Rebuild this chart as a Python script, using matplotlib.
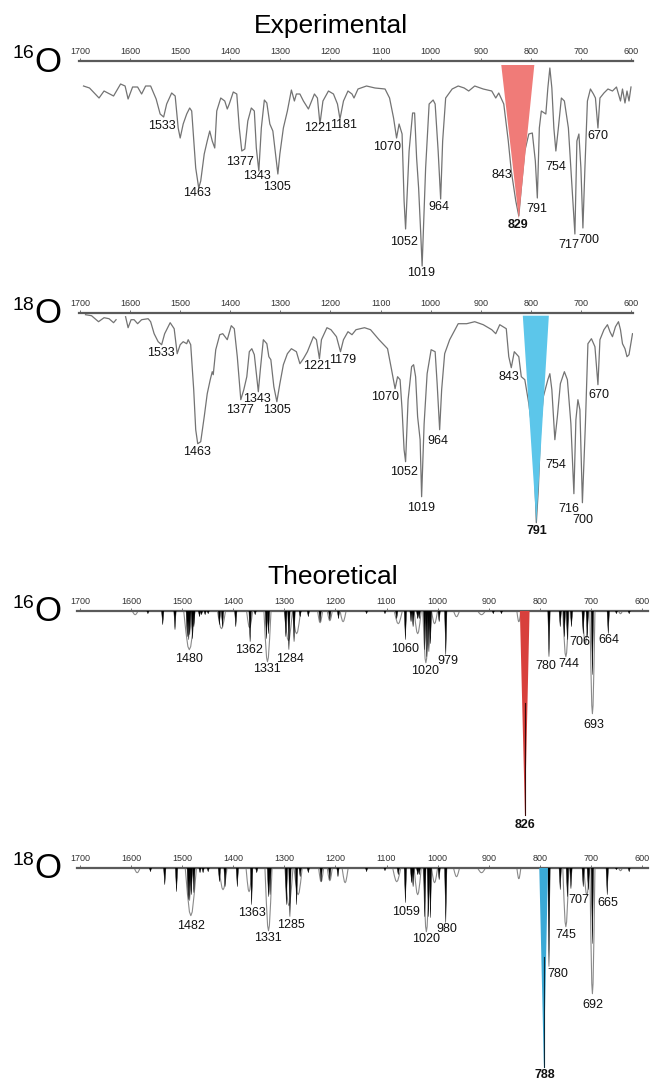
import numpy as np
import matplotlib.pyplot as plt

W, H = 652, 1082
nan = np.nan

# ---- experimental 16O (wavenumber, depth below axis line) ----
exp16_wn = [1693, 1681, 1662, 1652, 1633, 1619, 1610, 1604, 1595, 1585, 1577, 1569, 1559, 1548, 1540,
            1533, 1527, 1517, 1510, 1504, 1500, 1494, 1487, 1481, 1477, 1469, 1463, 1459, 1452, 1446,
            1441, 1436, 1431, 1427, 1419, 1411, 1406, 1402, 1394, 1387, 1382, 1377, 1371, 1365, 1358,
            1352, 1348, 1343, 1338, 1332, 1327, 1321, 1315, 1305, 1301, 1294, 1286, 1278, 1272, 1268,
            1261, 1254, 1244, 1232, 1226, 1221, 1215, 1204, 1194, 1186, 1181, 1174, 1165, 1157, 1153,
            1145, 1128, 1111, 1091, 1082, 1074, 1068, 1063, 1057, 1053, 1050, 1043, 1036, 1032, 1028,
            1024, 1020, 1017, 1010, 1003, 995, 991, 985, 980, 976, 970, 957, 945, 933, 924,
            912, 895, 878, 870, 864, 854, 845, 839, 830, 824, 819, 812, 804, 797, 791,
            787, 783, 779, 770, 766, 762, 758, 754, 750, 745, 739, 733, 725, 716, 712,
            708, 704, 700, 696, 692, 687, 681, 675, 671, 666, 662, 654, 646, 637, 629,
            621, 617, 612, 608, 604, 600]
exp16_depth = [25, 27, 37, 30, 35, 23, 25, 38, 26, 26, 33, 25, 25, 38, 53,
               56, 43, 32, 35, 67, 77, 63, 53, 47, 50, 107, 127, 120, 93, 80,
               70, 80, 87, 50, 37, 40, 48, 43, 31, 33, 67, 90, 88, 60, 47,
               50, 87, 110, 67, 39, 42, 63, 70, 113, 93, 67, 50, 29, 40, 33,
               33, 40, 48, 33, 37, 63, 40, 30, 33, 43, 58, 40, 30, 33, 37,
               28, 25, 27, 28, 37, 57, 77, 63, 73, 140, 168, 90, 52, 52, 97,
               127, 170, 205, 107, 43, 39, 43, 90, 138, 80, 37, 28, 25, 27, 30,
               25, 28, 30, 37, 32, 43, 80, 110, 140, 155, 127, 90, 73, 72, 100,
               137, 67, 50, 53, 27, 7, 27, 67, 90, 67, 37, 40, 67, 140, 173,
               80, 73, 107, 167, 107, 40, 28, 33, 37, 67, 37, 32, 28, 30, 26,
               40, 28, 42, 30, 40, 26]

# ---- experimental 18O (nan = gap in trace) ----
exp18_wn = [1689, 1677, 1663, 1652, 1642, 1633, 1628, nan,
            1609, 1604, 1598, 1592, 1585, 1577, 1564, 1559, 1552, 1544, 1537, 1531, 1520, 1512, 1506,
            1500, 1494, 1487, 1484, 1479, 1473, 1469, 1465, 1459, 1452, 1446, 1440, 1436, 1434, 1429,
            1421, 1415, 1406, 1398, 1392, 1386, 1379, 1373, 1367, 1362, 1357, 1352, 1348, 1344, 1340,
            1334, 1327, 1323, 1319, 1313, 1307, 1301, 1294, 1286, 1278, 1268, 1261, 1254, 1246, 1234,
            1228, 1222, 1218, 1207, 1199, 1188, 1180, 1174, 1165, 1157, 1149, 1132, 1120, 1103, 1086,
            1078, 1071, 1066, 1061, 1057, 1053, 1050, 1045, 1038, 1034, 1030, 1026, 1021, 1018, 1013,
            1007, 999, 991, 987, 982, 978, 972, 962, 945, 928, 912, 895, 878, 870, 862,
            849, 844, 839, 833, 824, 819, 812, 804, 795, 789, 785, 780, 775, 766, 762,
            758, 752, 747, 741, 733, 727, 720, 714, 710, 706, 702, 697, 691, 686, 679,
            672, 666, 662, 654, 647, 642, 637, 631, 625, 621, 617, 612, 608, 604, 597]
exp18_depth = [2, 3, 9, 5, 6, 10, 7, nan,
               4, 15, 7, 7, 11, 7, 6, 9, 21, 29, 32, 21, 10, 16, 41,
               32, 29, 31, 27, 32, 77, 117, 131, 129, 104, 81, 67, 59, 62, 37,
               22, 21, 27, 13, 16, 44, 87, 77, 64, 39, 36, 42, 61, 79, 57,
               27, 31, 44, 47, 74, 89, 71, 52, 41, 36, 39, 51, 46, 39, 24,
               27, 46, 27, 15, 17, 24, 39, 27, 19, 22, 17, 15, 17, 27, 36,
               57, 76, 64, 67, 97, 137, 149, 87, 54, 52, 64, 104, 127, 184, 111,
               61, 37, 39, 71, 117, 77, 41, 27, 11, 11, 9, 12, 17, 21, 12,
               16, 44, 55, 39, 44, 64, 67, 91, 127, 210, 177, 111, 84, 67, 61,
               77, 127, 104, 71, 59, 67, 111, 181, 107, 87, 97, 190, 111, 31, 26,
               34, 72, 27, 17, 12, 19, 24, 14, 9, 17, 31, 36, 44, 42, 21]

# ---- theoretical 16O: computed bands (black) and broadened envelope (grey) ----
th16_stick_wn = [1567, 1538, 1514, 1490, 1487, 1485, 1480, 1477, 1466, 1462, 1455, 1449, 1427, 1421,
                 1395, 1367, 1357, 1335, 1331, 1297, 1291, 1281, 1269, 1253, 1230, 1211, 1194, 1139,
                 1103, 1080, 1063, 1052, 1048, 1039, 1036, 1025, 1021, 1017, 1014, 997, 984, 891, 875,
                 782, 760, 752, 746, 738, 715, 707, 697, 666, 650, 625]
th16_stick_depth = [3, 14, 19, 26, 29, 24, 28, 16, 6, 4, 4, 3, 14, 16,
                    16, 31, 4, 28, 23, 26, 39, 31, 6, 6, 11, 9, 8, 3,
                    3, 8, 29, 11, 16, 8, 8, 39, 46, 41, 33, 11, 44, 3, 3,
                    46, 16, 26, 29, 16, 23, 26, 64, 23, 3, 3]
th16_env_wn = [1592, 1486, 1423, 1368, 1333, 1292, 1276, 1230, 1211, 1185, 1077, 1039, 1023, 1006,
               963, 914, 841, 749, 711, 697, 642]
th16_env_depth = [4, 39, 18, 17, 51, 30, 23, 12, 10, 11, 13, 23, 52, 13,
                  6, 4, 11, 46, 33, 103, 3]
th16_env_hw = [6, 11, 8, 6, 7, 8, 8, 5, 5, 6, 8, 7, 6, 6, 6, 8, 4, 6, 6, 5, 4]

# ---- theoretical 18O ----
th18_stick_wn = [1562, 1534, 1511, 1488, 1485, 1482, 1477, 1465, 1459, 1449, 1427, 1416, 1392, 1364,
                 1354, 1331, 1328, 1296, 1289, 1276, 1269, 1253, 1228, 1211, 1195, 1139, 1103, 1077,
                 1063, 1051, 1048, 1039, 1036, 1025, 1018, 1014, 997, 984,
                 782, 760, 746, 739, 715, 705, 697, 668, 650, 625]
th18_stick_depth = [4, 17, 24, 32, 33, 27, 25, 5, 5, 4, 14, 19, 19, 37,
                    5, 29, 27, 37, 49, 37, 9, 5, 14, 12, 9, 4, 3, 7,
                    35, 15, 19, 7, 7, 49, 49, 50, 12, 55,
                    99, 22, 29, 21, 19, 22, 76, 27, 2, 4]
th18_env_wn = [1588, 1483, 1420, 1369, 1331, 1291, 1273, 1228, 1211, 1181, 1080, 1039, 1022, 1006,
               963, 914, 841, 749, 708, 697, 642]
th18_env_depth = [5, 48, 22, 24, 63, 38, 27, 14, 13, 15, 14, 27, 64, 15,
                  9, 5, 11, 59, 27, 126, 3]
th18_env_hw = [6, 11, 8, 6, 7, 8, 8, 5, 5, 6, 8, 7, 6, 6, 6, 8, 4, 6, 6, 5, 4]

# highlighted band: (left, apex, right) wavenumber and (top, apex) depth
exp16_band = [859, 824, 793]
exp16_band_depth = [4, 158]
exp18_band = [816, 789, 764]
exp18_band_depth = [3, 210]
th16_band = [839, 829, 820]
th16_band_depth = 204
th18_band = [801, 792, 784]
th18_band_depth = 199

# ---- peak labels: text, wavenumber, depth ----
lab_exp16 = [("1533", 1536, 65), ("1463", 1467, 132), ("1377", 1381, 101), ("1343", 1346, 115),
             ("1305", 1307, 126), ("1221", 1225, 67), ("1181", 1174, 64), ("1070", 1086, 86),
             ("1052", 1053, 181), ("1019", 1019, 212), ("964", 983, 146), ("843", 858, 114),
             ("829", 826, 164), ("791", 787, 148), ("754", 751, 106), ("717", 725, 184),
             ("700", 685, 179), ("670", 666, 75)]
lab_exp18 = [("1533", 1539, 40), ("1463", 1467, 139), ("1377", 1381, 97), ("1343", 1346, 86),
             ("1305", 1307, 97), ("1221", 1227, 53), ("1179", 1176, 47), ("1070", 1091, 84),
             ("1052", 1053, 159), ("1019", 1020, 195), ("964", 985, 128), ("843", 844, 64),
             ("791", 787, 218), ("754", 751, 152), ("716", 725, 196), ("700", 696, 207),
             ("670", 665, 82)]
lab_th16 = [("1480", 1486, 48), ("1362", 1369, 39), ("1331", 1335, 58), ("1284", 1288, 48),
            ("1060", 1064, 38), ("1020", 1025, 60), ("979", 980, 50), ("826", 829, 214),
            ("780", 788, 55), ("744", 743, 53), ("706", 721, 31), ("664", 665, 29),
            ("693", 694, 114)]
lab_th18 = [("1482", 1483, 58), ("1363", 1364, 45), ("1331", 1333, 70), ("1285", 1287, 57),
            ("1059", 1062, 44), ("1020", 1023, 71), ("980", 982, 61), ("788", 791, 207),
            ("780", 765, 106), ("745", 749, 67), ("707", 723, 32), ("665", 666, 35),
            ("692", 697, 137)]
bold_exp16, bold_exp18, bold_th16, bold_th18 = "829", "791", "826", "788"
tick_values = [1700, 1600, 1500, 1400, 1300, 1200, 1100, 1000, 900, 800, 700, 600]

NARROW = ['Liberation Sans Narrow', 'Liberation Sans', 'DejaVu Sans']
SANS = ['Liberation Sans', 'DejaVu Sans']

fig = plt.figure(figsize=(W / 100, H / 100), dpi=100)


def fig_text(x, y, s, **kw):
    fig.text(x / W, 1 - y / H, s, **kw)


def add_panel(left, top, right, bottom, xlim, depth):
    ax = fig.add_axes([left / W, 1 - bottom / H, (right - left) / W, (bottom - top) / H])
    ax.set_xlim(*xlim)
    ax.set_ylim(depth, 0)
    for s in ['left', 'right', 'bottom']:
        ax.spines[s].set_visible(False)
    ax.spines['top'].set_color('#5a5a5a')
    ax.spines['top'].set_linewidth(1.6)
    ax.xaxis.tick_top()
    ax.set_xticks(tick_values)
    ax.set_xticklabels([str(t) for t in tick_values], family=NARROW, fontsize=6.5, color='#333333')
    ax.tick_params(axis='x', length=2, width=0.6, color='#5a5a5a', pad=1.5)
    ax.set_yticks([])
    ax.patch.set_visible(False)
    return ax


def put_labels(ax, labels, bold):
    for txt, x, y in labels:
        ax.text(x, y, txt, ha='center', va='center', fontsize=9, family=SANS,
                fontweight='bold' if txt == bold else 'normal', color='#111111', zorder=6)


def draw_theory(ax, s_wn, s_d, e_wn, e_d, e_hw):
    for c, h, w in zip(e_wn, e_d, e_hw):
        ax.plot([c + w, c + 0.6 * w, c + 0.25 * w, c, c - 0.25 * w, c - 0.6 * w, c - w],
                [0, 0.55 * h, 0.92 * h, h, 0.92 * h, 0.55 * h, 0], color='#8a8a8a', lw=0.8, zorder=2)
    for c, h in zip(s_wn, s_d):
        ax.fill([c + 2.3, c, c - 2.3], [0, h, 0], color='black', lw=0.3, zorder=3)


# panel 1: experimental 16O
ax1 = add_panel(78.5, 61, 632.5, 290, (1703, 597), 229)
ax1.plot(exp16_wn, exp16_depth, color='#737373', lw=0.9, zorder=2)
ax1.fill([exp16_band[0], exp16_band[1], exp16_band[2]],
         [exp16_band_depth[0], exp16_band_depth[1], exp16_band_depth[0]],
         color='#f07b78', lw=0, zorder=4)
put_labels(ax1, lab_exp16, bold_exp16)

# panel 2: experimental 18O
ax2 = add_panel(78.5, 312.7, 632.5, 545, (1703, 597), 232.3)
ax2.plot(exp18_wn, exp18_depth, color='#737373', lw=0.9, zorder=2)
ax2.fill([exp18_band[0], exp18_band[1], exp18_band[2]],
         [exp18_band_depth[0], exp18_band_depth[1], exp18_band_depth[0]],
         color='#5cc6ea', lw=0, zorder=4)
put_labels(ax2, lab_exp18, bold_exp18)

# panel 3: theoretical 16O
ax3 = add_panel(76.9, 610.7, 648.1, 830, (1706, 588), 219.3)
draw_theory(ax3, th16_stick_wn, th16_stick_depth, th16_env_wn, th16_env_depth, th16_env_hw)
ax3.fill([th16_band[0], th16_band[1], th16_band[2]], [0, th16_band_depth, 0],
         color='#d8403c', lw=0, zorder=4)
ax3.plot([th16_band[1], th16_band[1]], [0.45 * th16_band_depth, th16_band_depth],
         color='#3a0a0a', lw=0.8, zorder=5)
put_labels(ax3, lab_th16, bold_th16)

# panel 4: theoretical 18O
ax4 = add_panel(76.9, 867.7, 648.1, 1082, (1706, 588), 214.3)
draw_theory(ax4, th18_stick_wn, th18_stick_depth, th18_env_wn, th18_env_depth, th18_env_hw)
ax4.fill([th18_band[0], th18_band[1], th18_band[2]], [0, th18_band_depth, 0],
         color='#3aa9d6', lw=0, zorder=4)
ax4.plot([th18_band[1], th18_band[1]], [0.45 * th18_band_depth, th18_band_depth],
         color='#0a2a3a', lw=0.8, zorder=5)
put_labels(ax4, lab_th18, bold_th18)

# titles and isotope labels
fig_text(331, 26, "Experimental", ha='center', va='center', fontsize=19, family=SANS)
fig_text(333, 577, "Theoretical", ha='center', va='center', fontsize=19, family=SANS)
for sup, y_axis in [("16", 61), ("18", 312.7), ("16", 610.7), ("18", 867.7)]:
    fig_text(23, y_axis - 7, sup, ha='center', va='center', fontsize=14, family=SANS)
    fig_text(48, y_axis + 1, "O", ha='center', va='center', fontsize=25, family=SANS)

fig.savefig("out.png", dpi=100)
